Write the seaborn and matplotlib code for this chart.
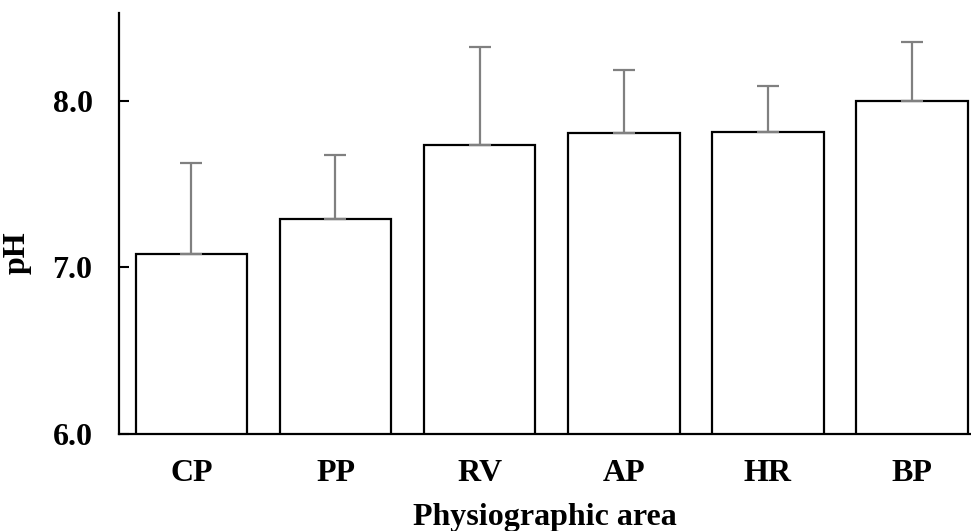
import numpy as np
import matplotlib
matplotlib.use("Agg")
import matplotlib.pyplot as plt
import seaborn as sns

# values
areas = ["CP", "PP", "RV", "AP", "HR", "BP"]
ph_mean = [7.08, 7.29, 7.735, 7.81, 7.815, 8.0]
ph_err = [0.55, 0.39, 0.59, 0.38, 0.28, 0.36]

sns.set_theme(style="white")
plt.rcParams['font.family'] = ['Liberation Serif', 'DejaVu Serif']
plt.rcParams['font.weight'] = 'bold'
plt.rcParams['text.color'] = 'black'
plt.rcParams['axes.labelcolor'] = 'black'
plt.rcParams['xtick.color'] = 'black'
plt.rcParams['ytick.color'] = 'black'

fig = plt.figure(figsize=(9.71, 5.31), dpi=100)
ax = fig.add_axes([119 / 971, 1 - 433.6 / 531, (971 - 119) / 971, (433.6 - 13.3) / 531])

sns.barplot(x=areas, y=ph_mean, color="white", edgecolor="black",
            linewidth=1.6, width=0.775, ax=ax, saturation=1)

# upper-only error bars, grey
xs = np.arange(len(areas))
ax.errorbar(xs, ph_mean, yerr=[np.zeros(len(areas)), ph_err], fmt="none",
            ecolor="#808080", elinewidth=1.6, capsize=8, capthick=1.6, zorder=3)

ax.set_ylim(6.0, 8.53)
ax.set_xlim(-0.502, 5.41)
ax.set_yticks([6.0, 7.0, 8.0])
ax.set_yticklabels(["6.0", "7.0", "8.0"])

for s in ["top", "right"]:
    ax.spines[s].set_visible(False)
for s in ["left", "bottom"]:
    ax.spines[s].set_color("black")
    ax.spines[s].set_linewidth(1.6)

ax.tick_params(axis="y", direction="in", length=7, width=1.5, colors="black",
               labelsize=23, pad=19, left=True)
ax.tick_params(axis="x", length=0, labelsize=23, pad=18, colors="black")
for lab in ax.get_xticklabels() + ax.get_yticklabels():
    lab.set_fontweight("bold")

ax.set_xlabel("Physiographic area", fontsize=23, fontweight="bold", labelpad=11, color="black")
ax.set_ylabel("pH", fontsize=23, fontweight="bold", color="black")
ax.yaxis.set_label_coords(-0.102, 0.43)

fig.savefig("out.png", dpi=100)
